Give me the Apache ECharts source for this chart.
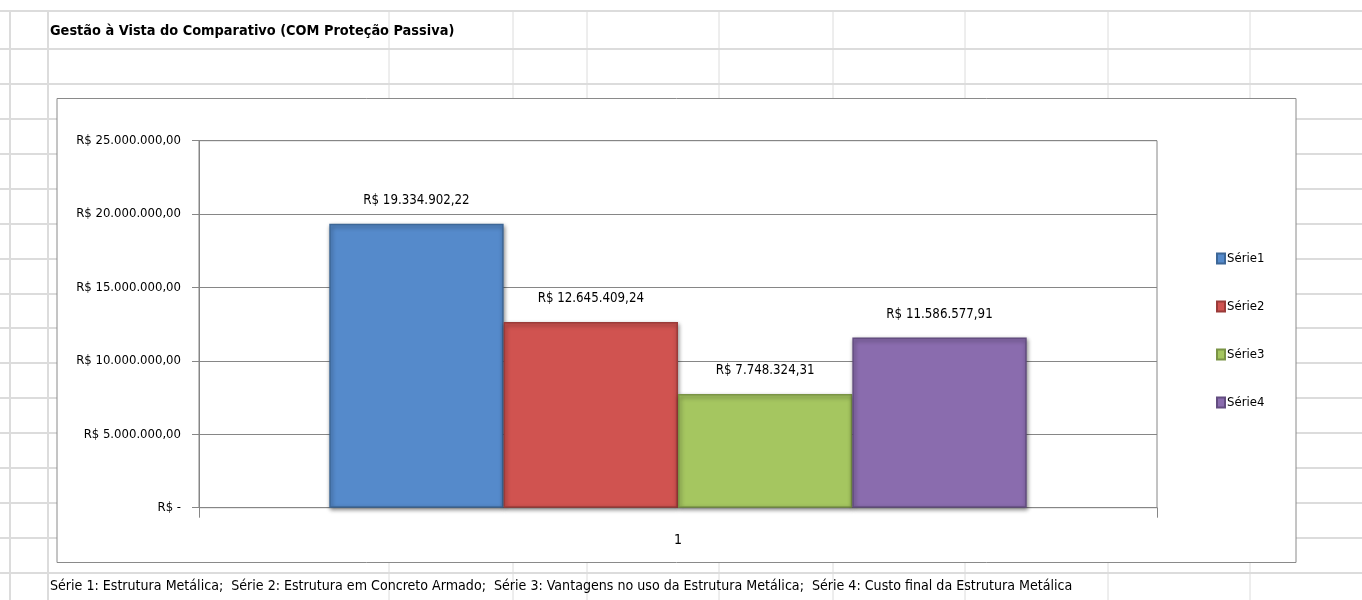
<!DOCTYPE html>
<html>
<head>
<meta charset="utf-8">
<script src="https://cdn.jsdelivr.net/npm/echarts@6/dist/echarts.min.js"></script>
<style>
  html, body { margin: 0; padding: 0; background: #fff; }
  #main { width: 1362px; height: 600px; }
</style>
</head>
<body>
<div id="main"></div>
<script>
// dados do gráfico
var categorias = ['1'];
var series = ['Série1', 'Série2', 'Série3', 'Série4'];
var valores = [19334902.22, 12645409.24, 7748324.31, 11586577.91];
var cores = ['#558acb', '#d05350', '#a5c660', '#8a6cae'];
var bordas = ['#3d6797', '#9a3b39', '#7a9446', '#634d80'];
var ticksY = [0, 5000000, 10000000, 15000000, 20000000, 25000000];

var titulo = 'Gestão à Vista do Comparativo (COM Proteção Passiva)';
var rodape = 'Série 1: Estrutura Metálica;  Série 2: Estrutura em Concreto Armado;  Série 3: Vantagens no uso da Estrutura Metálica;  Série 4: Custo final da Estrutura Metálica';

var FONTE = '"Liberation Sans Narrow", "DejaVu Sans Condensed", sans-serif';

// formato moeda brasileira
function moeda(v) {
  if (v === 0) return 'R$ -';
  var p = v.toFixed(2).split('.');
  var inteiro = p[0].replace(/\B(?=(\d{3})+(?!\d))/g, '.');
  return 'R$ ' + inteiro + ',' + p[1];
}

// linhas da planilha (fundo)
var linhas = [11, 49, 84];
for (var y = 119; y < 600; y += 34.9) linhas.push(Math.round(y));
var colunas = [10, 48, 389, 513, 587, 719, 833, 965, 1108, 1250];

var graficos = [];
linhas.forEach(function (y) {
  graficos.push({ type: 'line', z: -20, silent: true,
    shape: { x1: 0, y1: y, x2: 1362, y2: y },
    style: { stroke: '#dcdcdc', lineWidth: 2 } });
});
colunas.forEach(function (x) {
  graficos.push({ type: 'line', z: -20, silent: true,
    shape: { x1: x, y1: 11, x2: x, y2: 600 },
    style: { stroke: '#dcdcdc', lineWidth: x < 50 ? 2 : 1 } });
});
// caixa do gráfico
graficos.push({ type: 'rect', z: -10, silent: true,
  shape: { x: 57, y: 98.5, width: 1239, height: 464 },
  style: { fill: '#fff', stroke: '#8a8a8a', lineWidth: 1 } });
// rodapé
graficos.push({ type: 'text', z: 10, left: 50, top: 579,
  style: { text: rodape, font: '14.1px ' + FONTE, fill: '#000' } });

var chart = echarts.init(document.getElementById('main'));

var option = {
  backgroundColor: '#fff',
  animation: false,
  title: {
    text: titulo,
    left: 45,
    top: 19,
    textStyle: { fontFamily: FONTE, fontSize: 14.4, fontWeight: 'bold', color: '#000' }
  },
  graphic: graficos,
  legend: {
    orient: 'vertical',
    left: 1211,
    top: 247,
    itemGap: 35,
    itemWidth: 8,
    itemHeight: 10,
    icon: 'rect',
    data: series,
    textStyle: { fontFamily: FONTE, fontSize: 13, color: '#000', padding: [0, 0, 0, -3] }
  },
  grid: {
    left: 199,
    right: 205,
    top: 140.7,
    bottom: 92.3,
    show: true,
    borderColor: '#868686',
    borderWidth: 1,
    backgroundColor: 'transparent'
  },
  xAxis: {
    type: 'category',
    data: categorias,
    axisLine: { lineStyle: { color: '#868686' } },
    axisTick: { show: true, length: 10, lineStyle: { color: '#868686' } },
    axisLabel: { margin: 26, fontFamily: FONTE, fontSize: 14, color: '#000' }
  },
  yAxis: {
    type: 'value',
    min: ticksY[0],
    max: ticksY[ticksY.length - 1],
    interval: ticksY[1] - ticksY[0],
    axisLine: { show: true, lineStyle: { color: '#868686' } },
    axisTick: { show: true, length: 7, lineStyle: { color: '#868686' } },
    splitLine: { lineStyle: { color: '#868686' } },
    axisLabel: { margin: 18, fontFamily: FONTE, fontSize: 13, color: '#000', formatter: moeda }
  },
  series: series.map(function (nome, i) {
    return {
      name: nome,
      type: 'bar',
      barGap: 0,
      barCategoryGap: '27.2%',
      data: [valores[i]],
      itemStyle: {
        color: cores[i],
        borderColor: bordas[i],
        borderWidth: 1.5,
        shadowBlur: 4,
        shadowOffsetX: 1,
        shadowOffsetY: 2,
        shadowColor: 'rgba(0,0,0,0.45)'
      },
      label: {
        show: true,
        position: 'top',
        distance: 17,
        fontFamily: FONTE,
        fontSize: 13.2,
        color: '#000',
        formatter: function (p) { return moeda(p.value); }
      }
    };
  })
};

chart.setOption(option);
</script>
</body>
</html>
